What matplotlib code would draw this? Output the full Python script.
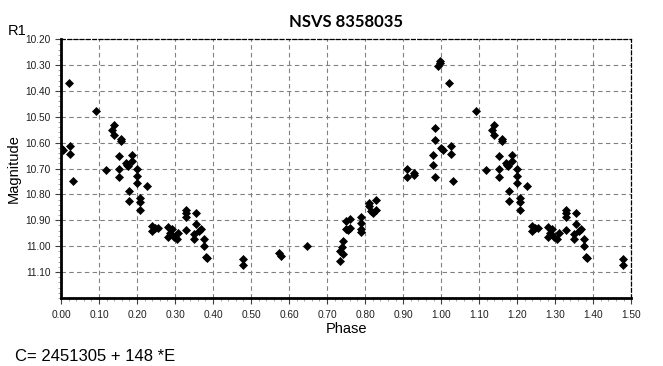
import matplotlib
matplotlib.use("Agg")
import matplotlib.pyplot as plt
import numpy as np

phase = [0.000, 0.005, 0.021, 0.025, 0.025, 0.031, 0.091, 0.118,
         0.133, 0.139, 0.139, 0.152, 0.152, 0.152, 0.159, 0.159,
         0.172, 0.174, 0.175, 0.179, 0.179, 0.186, 0.186,
         0.199, 0.199, 0.199, 0.208, 0.208, 0.208, 0.225,
         0.240, 0.240, 0.247, 0.254, 0.281, 0.281, 0.287, 0.291,
         0.296, 0.304, 0.309, 0.328, 0.328, 0.328, 0.328,
         0.350, 0.350, 0.355, 0.355, 0.364, 0.368, 0.376, 0.376,
         0.381, 0.383, 0.478, 0.478, 0.573, 0.579, 0.647,
         0.733, 0.734, 0.739, 0.741, 0.741, 0.750, 0.750, 0.755, 0.759, 0.759,
         0.789, 0.789, 0.789, 0.789, 0.810, 0.810, 0.815, 0.820, 0.829, 0.829,
         0.910, 0.910, 0.929, 0.929, 0.978, 0.978, 0.984, 0.984, 0.984,
         0.991, 0.996, 0.998]
mag = [10.622, 10.630, 10.371, 10.611, 10.642, 10.750, 10.476, 10.707,
       10.551, 10.530, 10.572, 10.653, 10.703, 10.734, 10.584, 10.595,
       10.678, 10.685, 10.692, 10.786, 10.826, 10.649, 10.672,
       10.703, 10.727, 10.754, 10.814, 10.831, 10.859, 10.769,
       10.921, 10.943, 10.930, 10.931, 10.927, 10.966, 10.949, 10.934,
       10.966, 10.972, 10.949, 10.859, 10.872, 10.889, 10.936,
       10.953, 10.972, 10.873, 10.914, 10.940, 10.934, 10.972, 10.998,
       11.040, 11.046, 11.050, 11.071, 11.027, 11.037, 10.998,
       11.017, 11.059, 11.005, 10.981, 11.029, 10.904, 10.932, 10.938, 10.894, 10.930,
       10.889, 10.910, 10.932, 10.947, 10.833, 10.846, 10.866, 10.872, 10.820, 10.862,
       10.700, 10.731, 10.717, 10.724, 10.647, 10.685, 10.542, 10.591, 10.734,
       10.302, 10.293, 10.286]

ytick_vals = [10.2, 10.3, 10.4, 10.5, 10.6, 10.7, 10.8, 10.9, 11.0, 11.1]
xtick_vals = [0.0, 0.1, 0.2, 0.3, 0.4, 0.5, 0.6, 0.7, 0.8, 0.9,
              1.0, 1.1, 1.2, 1.3, 1.4, 1.5]

ph = np.array(phase)
mg = np.array(mag)
# phase diagram repeats the first half cycle after phase 1
rep = ph < 0.5
ph_all = np.concatenate([ph, ph[rep] + 1.0])
mg_all = np.concatenate([mg, mg[rep]])

plt.rcParams['font.family'] = ['Liberation Sans', 'DejaVu Sans']

fig = plt.figure(figsize=(6.63, 3.66), dpi=100)
ax = fig.add_axes([0.092, 0.186, 0.860, 0.707])

ax.plot(ph_all, mg_all, linestyle='none', marker='D', markersize=3.6,
        color='black', markeredgewidth=0.5)

ax.set_xlim(0, 1.5)
ax.set_ylim(11.2, 10.2)
ax.set_xticks(xtick_vals)
ax.set_xticklabels([f"{v:.2f}" for v in xtick_vals])
ax.set_yticks(ytick_vals)
ax.set_yticklabels([f"{v:.2f}" for v in ytick_vals])
ax.set_xticks(np.arange(0, 1.5001, 0.02), minor=True)
ax.set_yticks(np.arange(10.2, 11.2001, 0.02), minor=True)

ax.grid(True, which='major', linestyle=(0, (4, 3)), color='#808080', linewidth=0.8)
ax.tick_params(axis='both', which='major', labelsize=7.3, length=4, width=0.8,
               color='#404040', labelcolor='#202020')
ax.tick_params(axis='both', which='minor', length=2, width=0.5, color='#808080')
ax.tick_params(axis='x', pad=5)

ax.spines['left'].set_linewidth(2)
ax.spines['bottom'].set_linewidth(2)
for s in ['top', 'right']:
    ax.spines[s].set_linestyle((0, (3, 2)))
    ax.spines[s].set_linewidth(0.9)
    ax.spines[s].set_color('black')

ax.set_xlabel("Phase", fontsize=10.5, labelpad=1)
ax.set_ylabel("Magnitude", fontsize=10.5, labelpad=3)
ax.set_title("NSVS 8358035", fontsize=12, fontweight='bold',
             family=['Lato', 'DejaVu Sans'], pad=9)

fig.text(0.012, 0.905, "R1", fontsize=10.5)
fig.text(0.022, 0.015, "C= 2451305 + 148 *E", fontsize=12)

fig.savefig("out.png", dpi=100)
